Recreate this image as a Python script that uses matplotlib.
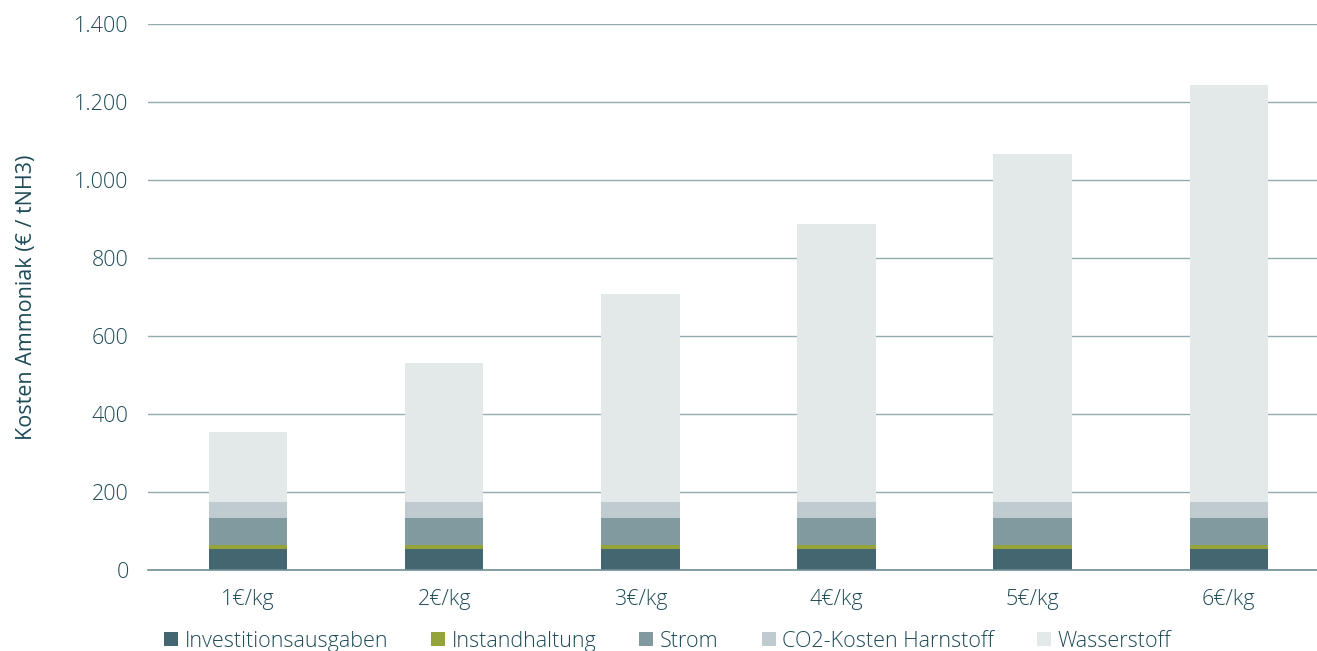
import matplotlib
matplotlib.use("Agg")
import matplotlib.pyplot as plt
from matplotlib.patches import Patch
import numpy as np

plt.rcParams['font.family'] = ['Open Sans', 'DejaVu Sans']
plt.rcParams['font.weight'] = 'light'

categories = ["1€/kg", "2€/kg", "3€/kg", "4€/kg", "5€/kg", "6€/kg"]
investition = [54, 54, 54, 54, 54, 54]
instandhaltung = [10, 10, 10, 10, 10, 10]
strom = [70, 70, 70, 70, 70, 70]
co2_harnstoff = [40, 40, 40, 40, 40, 40]
wasserstoff = [180, 357, 534, 713, 893, 1070]

series = [
    ("Investitionsausgaben", investition, "#436670"),
    ("Instandhaltung", instandhaltung, "#94a43a"),
    ("Strom", strom, "#819aa0"),
    ("CO2-Kosten Harnstoff", co2_harnstoff, "#bfcbcf"),
    ("Wasserstoff", wasserstoff, "#e3e9e9"),
]

text_color = "#1e4b57"
grid_color = "#93aab0"
fs = 15.5

fig = plt.figure(figsize=(13.17, 6.51), dpi=100)
ax = fig.add_axes([148 / 1317, 1 - 570 / 651, (1317 - 148) / 1317, 546 / 651])

x = np.arange(len(categories))
bottom = np.zeros(len(categories))
for name, vals, color in series:
    ax.bar(x, vals, width=0.4, bottom=bottom, color=color, label=name, zorder=3)
    bottom += np.array(vals)

ax.set_ylim(0, 1400)
ax.set_xlim(-0.51, 5.45)
ax.set_yticks(range(0, 1401, 200))
ax.set_yticklabels([f"{v:,}".replace(",", ".") for v in range(0, 1401, 200)])
ax.set_xticks(x)
ax.set_xticklabels(categories)
ax.yaxis.grid(True, color=grid_color, linewidth=1, zorder=0)
ax.set_axisbelow(True)
for s in ["top", "right", "left"]:
    ax.spines[s].set_visible(False)
ax.spines["bottom"].set_color("#6f8f97")
ax.spines["bottom"].set_linewidth(1.2)
ax.spines["bottom"].set_zorder(4)
ax.tick_params(axis="both", length=0, labelsize=fs, colors=text_color)
ax.tick_params(axis="y", pad=14)
ax.tick_params(axis="x", pad=14)
ax.set_ylabel("Kosten Ammoniak (€ / tNH3)", fontsize=fs, color=text_color, labelpad=27)

handles = [Patch(facecolor=c, label=n) for n, _, c in series]
fig.legend(handles=handles, loc="center", bbox_to_anchor=(0.507, 0.015), ncol=5,
           frameon=False, fontsize=fs, labelcolor=text_color,
           handlelength=0.65, handleheight=0.65, handletextpad=0.3, columnspacing=2.0)

fig.savefig("out.png", dpi=100)
